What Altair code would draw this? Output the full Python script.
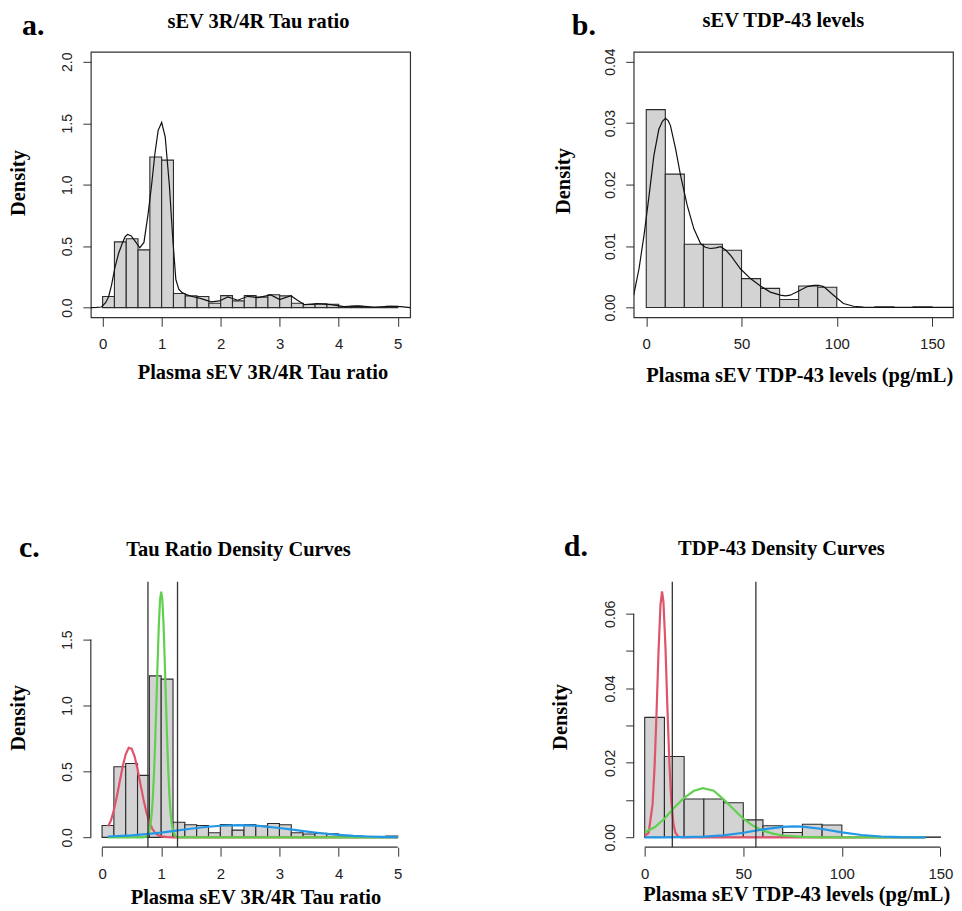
import altair as alt
import pandas as pd

# ---------------- Tau ratio (panels a, c) ----------------
tau_bin_left = [0.0, 0.2, 0.4, 0.6, 0.8, 1.0, 1.2, 1.4, 1.6, 1.8, 2.0, 2.2, 2.4,
                2.6, 2.8, 3.0, 3.2, 3.4, 3.6, 3.8, 4.0, 4.2, 4.4, 4.6, 4.8]
tau_bin_right = [0.2, 0.4, 0.6, 0.8, 1.0, 1.2, 1.4, 1.6, 1.8, 2.0, 2.2, 2.4, 2.6,
                 2.8, 3.0, 3.2, 3.4, 3.6, 3.8, 4.0, 4.2, 4.4, 4.6, 4.8, 5.0]
tau_hist = [0.09, 0.535, 0.56, 0.47, 1.225, 1.2, 0.115, 0.095, 0.09, 0.035, 0.097,
            0.055, 0.097, 0.085, 0.105, 0.095, 0.035, 0.025, 0.03, 0.027, 0.005,
            0.01, 0.0, 0.0, 0.01]

tau_kde_x = [-0.2, -0.1, -0.02, 0.05, 0.1, 0.15, 0.21, 0.27, 0.33, 0.38, 0.42, 0.48,
             0.55, 0.63, 0.7, 0.77, 0.83, 0.885, 0.94, 1.0, 1.06, 1.13, 1.19, 1.24,
             1.29, 1.34, 1.42, 1.5, 1.67, 1.84, 1.98, 2.12, 2.29, 2.46, 2.63, 2.85,
             3.0, 3.19, 3.3, 3.42, 3.64, 3.87, 4.09, 4.32, 4.6, 4.88, 5.05, 5.21]
tau_kde_y = [0.0, 0.001, 0.005, 0.04, 0.086, 0.18, 0.33, 0.44, 0.52, 0.575, 0.595, 0.585,
             0.54, 0.487, 0.53, 0.76, 1.0, 1.25, 1.44, 1.507, 1.39, 1.0, 0.55, 0.23,
             0.15, 0.125, 0.105, 0.092, 0.073, 0.046, 0.054, 0.087, 0.06, 0.092, 0.081, 0.103,
             0.065, 0.097, 0.06, 0.024, 0.032, 0.024, 0.008, 0.0135, 0.003, 0.011, 0.008, 0.0]

tau_red_x = [0.1, 0.15, 0.2, 0.25, 0.3, 0.35, 0.4, 0.45, 0.5, 0.55, 0.6, 0.65, 0.7,
             0.75, 0.8, 0.85, 0.9, 0.95, 1.0, 1.1, 1.2, 1.3, 2.0, 3.0, 4.0, 5.0]
tau_red_y = [0.085, 0.128, 0.208, 0.31, 0.426, 0.54, 0.63, 0.679, 0.673, 0.615, 0.518,
             0.402, 0.288, 0.19, 0.115, 0.065, 0.033, 0.016, 0.007, 0.001, 0.0, 0.0,
             0.0, 0.0, 0.0, 0.0]

tau_green_x = [0.1, 0.6, 0.68, 0.72, 0.76, 0.8, 0.82, 0.84, 0.86, 0.88, 0.9, 0.92, 0.94,
               0.96, 0.98, 1.0, 1.02, 1.04, 1.06, 1.08, 1.1, 1.12, 1.14, 1.16, 1.18,
               1.2, 1.24, 1.28, 1.32, 1.4, 2.0, 3.0, 4.0, 5.0]
tau_green_y = [0.0, 0.0, 0.0, 0.0015, 0.0097, 0.048, 0.097, 0.18, 0.311, 0.5, 0.748,
               1.039, 1.342, 1.61, 1.797, 1.864, 1.797, 1.61, 1.342, 1.039, 0.748, 0.5,
               0.311, 0.18, 0.097, 0.048, 0.0097, 0.0015, 0.0, 0.0, 0.0, 0.0, 0.0, 0.0]

tau_blue_x = [0.1, 0.5, 0.75, 1.0, 1.25, 1.5, 1.75, 2.0, 2.3, 2.6, 3.0, 3.25, 3.5,
              3.75, 4.0, 4.25, 4.5, 4.75, 5.0]
tau_blue_y = [0.0064, 0.0154, 0.0246, 0.036, 0.0505, 0.065, 0.0787, 0.088, 0.093,
              0.0885, 0.071, 0.0564, 0.042, 0.029, 0.019, 0.0113, 0.0064, 0.0033, 0.0016]

tau_cutoffs = [0.776, 1.276]
tau_xticks = [0, 1, 2, 3, 4, 5]
tau_yticks_a = [0.0, 0.5, 1.0, 1.5, 2.0]
tau_yticks_c = [0.0, 0.5, 1.0, 1.5]

# ---------------- TDP-43 levels (panels b, d) ----------------
tdp_bin_left = [0, 10, 20, 30, 40, 50, 60, 70, 80, 90, 100, 110, 120, 130, 140]
tdp_bin_right = [10, 20, 30, 40, 50, 60, 70, 80, 90, 100, 110, 120, 130, 140, 150]
tdp_hist = [0.0322, 0.0217, 0.0103, 0.0103, 0.0093, 0.0047, 0.0031, 0.0013, 0.0035,
            0.0033, 0.0, 0.0, 0.0001, 0.0, 0.0001]

tdp_kde_x = [-6.6, -3.8, -1.2, 1.4, 4.0, 6.6, 8.5, 10.1, 11.5, 12.7, 15.4, 18.0, 21.5,
             25.0, 28.5, 31.0, 33.7, 36.5, 39.0, 41.5, 44.2, 49.4, 54.7, 59.9, 65.1,
             70.4, 73.0, 75.6, 80.8, 84.5, 87.8, 90.5, 93.1, 98.3, 103.5, 108.8, 114.0,
             120.0, 161.0]
tdp_kde_y = [0.002, 0.0063, 0.0117, 0.018, 0.0247, 0.029, 0.0303, 0.0308, 0.0304, 0.0296,
             0.0258, 0.0215, 0.0166, 0.0128, 0.0104, 0.0098, 0.0096, 0.0097, 0.0099,
             0.0094, 0.0085, 0.0063, 0.0047, 0.0035, 0.0025, 0.002, 0.0019, 0.002,
             0.0028, 0.0034, 0.0036, 0.0036, 0.0034, 0.002, 0.00065, 0.0002, 0.00005,
             0.0, 0.0]

tdp_red_x = [0, 2, 4, 5, 6, 7, 8, 8.8, 9.5, 10.5, 11.5, 12.5, 13.5, 14.5, 15.5, 17, 19,
             30, 60, 100, 142.4]
tdp_red_y = [0.0004, 0.0012, 0.0089, 0.0189, 0.0334, 0.0498, 0.0624, 0.066, 0.0632,
             0.0514, 0.035, 0.0201, 0.0097, 0.0039, 0.0013, 0.0002, 0.0, 0.0, 0.0, 0.0, 0.0]

tdp_green_x = [0, 5, 10, 15, 20, 25, 29.5, 35, 40, 45, 50, 55, 60, 65, 70, 80, 90, 142.4]
tdp_green_y = [0.0013, 0.0027, 0.005, 0.008, 0.0106, 0.0125, 0.0132, 0.0125, 0.0102,
               0.0076, 0.005, 0.0031, 0.0018, 0.001, 0.0005, 0.0001, 0.0, 0.0]

tdp_blue_x = [0, 10, 20, 30, 40, 50, 60, 70, 75.7, 80, 90, 100, 110, 120, 130, 142.4]
tdp_blue_y = [0.0, 0.00001, 0.00005, 0.00019, 0.00055, 0.00123, 0.00212, 0.00281,
              0.00293, 0.00286, 0.00224, 0.00135, 0.00062, 0.00022, 0.00006, 0.00001]

tdp_cutoffs = [14.0, 56.4]
tdp_xticks = [0, 50, 100, 150]
tdp_yticks_b = [0.0, 0.01, 0.02, 0.03, 0.04]
tdp_yticks_d = [0.0, 0.01, 0.02, 0.03, 0.04, 0.05, 0.06]

# ---------------- styling ----------------
W, H = 320, 266
SERIF = "Liberation Serif"
SANS = "Liberation Sans"
RED, GREEN, BLUE = "#DF536B", "#61D04F", "#2297E6"
TFS = 20.5


def x_axis(ticks, title, tx, ty):
    return alt.Axis(values=ticks, title=title, domain=False, grid=False,
                    tickSize=9, tickColor="#333", tickWidth=1,
                    labelFont=SANS, labelFontSize=15, labelColor="#222",
                    labelPadding=10, labelFlush=False, labelOverlap=False,
                    titleFont=SERIF, titleFontSize=TFS, titleFontWeight="bold",
                    titleColor="black", titleX=tx, titleY=ty,
                    titleAlign="center", titleBaseline="middle")


def y_axis(ticks, fmt, tx, ty, label_expr=None):
    kw = dict(values=ticks, format=fmt, title="Density", domain=False, grid=False,
              tickSize=8, tickColor="#333", tickWidth=1,
              labelFont=SANS, labelFontSize=14, labelColor="#222",
              labelAngle=270, labelAlign="center", labelBaseline="bottom",
              labelPadding=8, labelFlush=False, labelOverlap=False,
              titleFont=SERIF, titleFontSize=TFS, titleFontWeight="bold",
              titleColor="black", titleX=tx, titleY=ty, titleAngle=270,
              titleAlign="center", titleBaseline="middle")
    if label_expr:
        kw["labelExpr"] = label_expr
    return alt.Axis(**kw)


def text_layer(txt, x, y, size):
    return alt.Chart(pd.DataFrame({"t": [txt]})).mark_text(
        font=SERIF, fontWeight="bold", fontSize=size,
        align="center" if size < 25 else "left",
        baseline="alphabetic", color="black").encode(
        text="t:N", x=alt.value(x), y=alt.value(y))


class P:
    """Holds the shared scales and axes of one panel."""
    def __init__(self, xdom, ydom, xax, yax):
        self.xs = alt.Scale(domain=xdom, nice=False, zero=False)
        self.ys = alt.Scale(domain=ydom, nice=False, zero=False)
        self.xax = xax
        self.yax = yax

    def X(self, f):
        return alt.X(f, scale=self.xs, axis=self.xax)

    def Y(self, f):
        return alt.Y(f, scale=self.ys, axis=self.yax)


def curve(p, xs_list, ys_list, color, width):
    df = pd.DataFrame({"x": xs_list, "y": ys_list})
    return alt.Chart(df).mark_line(color=color, strokeWidth=width, clip=True).encode(
        x=p.X("x:Q"), y=p.Y("y:Q"))


def vlines(p, cuts):
    return alt.Chart(pd.DataFrame({"x": cuts})).mark_rule(
        color="#333", strokeWidth=1.3).encode(x=p.X("x:Q"))


def axis_lines(p, xticks, yticks):
    xl = alt.Chart(pd.DataFrame({"x": [xticks[0]], "x2": [xticks[-1]]})).mark_rule(
        color="#333", strokeWidth=1.2).encode(x=p.X("x:Q"), x2="x2:Q", y=alt.value(H))
    yl = alt.Chart(pd.DataFrame({"y": [yticks[0]], "y2": [yticks[-1]]})).mark_rule(
        color="#333", strokeWidth=1.2).encode(y=p.Y("y:Q"), y2="y2:Q", x=alt.value(0))
    return [xl, yl]


def panel(p, bl, br, hv, extra, letter, lpos, title, tpos, boxed):
    hdf = pd.DataFrame({"x": bl, "x2": br, "y": hv})
    bars = alt.Chart(hdf).mark_rect(fill="#D3D3D3", stroke="#2b2b2b", strokeWidth=1.1).encode(
        x=p.X("x:Q"), x2="x2:Q", y=p.Y("y:Q"), y2=alt.datum(0))
    layers = [bars] + extra
    layers.append(text_layer(letter, lpos[0], lpos[1], 30))
    layers.append(text_layer(title, tpos[0], tpos[1], TFS))
    ch = alt.layer(*layers).properties(width=W, height=H)
    if boxed:
        ch = ch.properties(view=alt.ViewBackground(stroke="#333", strokeWidth=1.2))
    return ch


p_a = P([-0.2, 5.21], [-0.079, 2.081],
        x_axis(tau_xticks, "Plasma sEV 3R/4R Tau ratio", 172, 55),
        y_axis(tau_yticks_a, ".1f", -72, 131))
pa = panel(p_a, tau_bin_left, tau_bin_right, tau_hist,
           [curve(p_a, tau_kde_x, tau_kde_y, "#111", 1.2)],
           "a.", (-69, -17), "sEV 3R/4R Tau ratio", (168, -24), True)

p_b = P([-6.6, 161.0], [-0.0016, 0.0416],
        x_axis(tdp_xticks, "Plasma sEV TDP-43 levels (pg/mL)", 166, 58),
        y_axis(tdp_yticks_b, ".2f", -70, 129))
pb = panel(p_b, tdp_bin_left, tdp_bin_right, tdp_hist,
           [curve(p_b, tdp_kde_x, tdp_kde_y, "#111", 1.2)],
           "b.", (-62, -17), "sEV TDP-43 levels", (150, -25), True)

p_c = P([-0.19, 5.21], [-0.0746, 1.939],
        x_axis(tau_xticks, "Plasma sEV 3R/4R Tau ratio", 165, 50),
        y_axis(tau_yticks_c, ".1f", -72, 136))
pc = panel(p_c, tau_bin_left, tau_bin_right, tau_hist,
           [curve(p_c, tau_red_x, tau_red_y, RED, 2.2),
            curve(p_c, tau_green_x, tau_green_y, GREEN, 2.2),
            curve(p_c, tau_blue_x, tau_blue_y, BLUE, 2.2),
            vlines(p_c, tau_cutoffs)] + axis_lines(p_c, tau_xticks, tau_yticks_c),
           "c.", (-72, -25), "Tau Ratio Density Curves", (148, -26), False)

p_d = P([-5.6, 156.4], [-0.00264, 0.0686],
        x_axis(tdp_xticks, "Plasma sEV TDP-43 levels (pg/mL)", 163, 47),
        y_axis(tdp_yticks_d, ".2f", -73, 135,
               "(round(datum.value * 100) % 2 == 0) ? datum.label : ''"))
pd_ = panel(p_d, tdp_bin_left, tdp_bin_right, tdp_hist,
            [curve(p_d, tdp_red_x, tdp_red_y, RED, 2.2),
             curve(p_d, tdp_green_x, tdp_green_y, GREEN, 2.2),
             curve(p_d, tdp_blue_x, tdp_blue_y, BLUE, 2.2),
             vlines(p_d, tdp_cutoffs)] + axis_lines(p_d, tdp_xticks, tdp_yticks_d),
            "d.", (-70, -26), "TDP-43 Density Curves", (148, -27), False)

chart = alt.concat(pa, pb, pc, pd_, columns=2,
                   spacing={"row": 265, "column": 224}, bounds="flush").configure_view(
    stroke=None).properties(padding={"left": 0, "top": 1, "right": 0, "bottom": 0},
                            background="white")

chart.save("out.html", embed_options={"renderer": "svg", "actions": False})
